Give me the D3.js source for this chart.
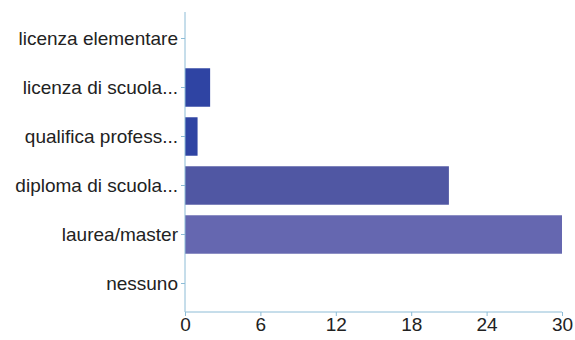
<!DOCTYPE html>
<html>
<head>
<meta charset="utf-8">
<script src="https://cdn.jsdelivr.net/npm/d3@7"></script>
<style>
  body { margin: 0; background: #fff; }
  svg { font-family: "Liberation Sans", Arial, sans-serif; }
</style>
</head>
<body>
<svg width="575" height="340"></svg>
<script>
const categorie = ["licenza elementare", "licenza di scuola...", "qualifica profess...", "diploma di scuola...", "laurea/master", "nessuno"]
const valori = [0, 2, 1, 21, 30, 0]
const colori = ["#2f44a3", "#2f44a3", "#2f44a3", "#5057a3", "#6567b0", "#6567b0"]
const tickX = [0, 6, 12, 18, 24, 30]

const svg = d3.select("svg")
const mLeft = 185, mRight = 562, mTop = 14, mBottom = 312
const axisColor = "#8dbcd6"

const x = d3.scaleLinear().domain([0, 30]).range([mLeft, mRight])
const y = d3.scaleBand().domain(categorie).range([mTop, 308]).paddingInner(0.215).paddingOuter(0.1075)

svg.selectAll("rect.bar")
  .data(valori)
  .join("rect")
  .attr("class", "bar")
  .attr("x", x(0))
  .attr("y", (d, i) => y(categorie[i]))
  .attr("width", d => x(d) - x(0))
  .attr("height", y.bandwidth())
  .attr("fill", (d, i) => colori[i])

// asse y
const ay = svg.append("g")
  .attr("transform", `translate(${mLeft},0)`)
  .call(d3.axisLeft(y).tickSize(4).tickPadding(3))
ay.select(".domain").remove()
ay.append("line").attr("x1", 0).attr("x2", 0).attr("y1", 12).attr("y2", mBottom).attr("stroke", axisColor)
ay.selectAll(".tick line").attr("stroke", axisColor)
ay.selectAll(".tick text").attr("fill", "#222").style("font-size", "19px")

// asse x
const ax = svg.append("g")
  .attr("transform", `translate(0,${mBottom})`)
  .call(d3.axisBottom(x).tickValues(tickX).tickSize(4).tickPadding(2))
ax.select(".domain").attr("stroke", axisColor).attr("d", `M${mLeft},0H${mRight}`)
ax.selectAll(".tick line").attr("stroke", axisColor)
ax.selectAll(".tick text").attr("fill", "#222").style("font-size", "19px")
</script>
</body>
</html>
